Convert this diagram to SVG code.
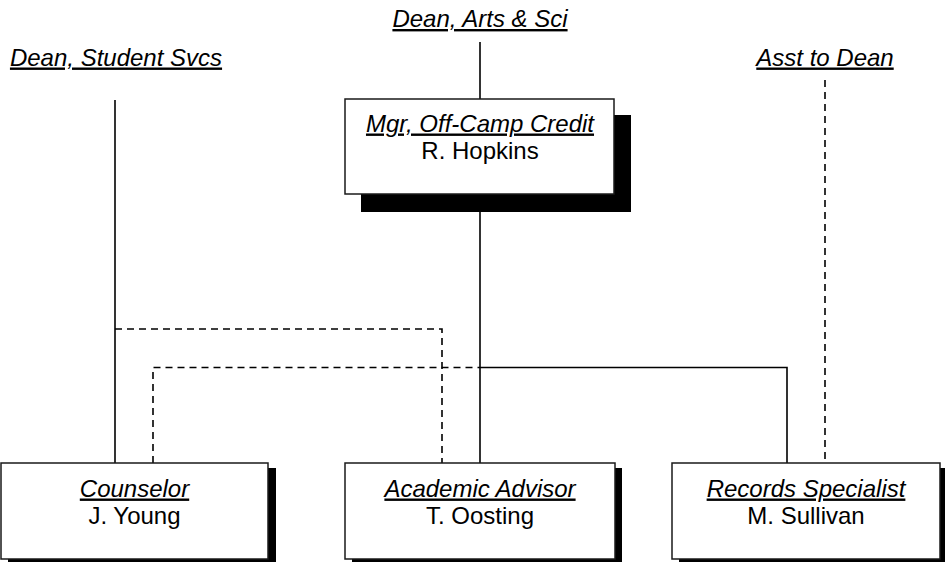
<svg xmlns="http://www.w3.org/2000/svg" width="945" height="562" viewBox="0 0 945 562">
<style>
  .box { fill: #ffffff; stroke: #1a1a1a; stroke-width: 1.5; }
  .shadow { fill: #000000; }
  .title { font-family: "Liberation Sans", Arial, sans-serif; font-size: 24px; font-style: italic; text-decoration: underline; text-anchor: middle; fill: #000; }
  .name { font-family: "Liberation Sans", Arial, sans-serif; font-size: 24px; text-anchor: middle; fill: #000; }
  .solid { fill: none; stroke: #000; stroke-width: 1.6; }
  .dashed { fill: none; stroke: #000; stroke-width: 1.6; stroke-dasharray: 7 5; }
</style>
<rect width="945" height="562" fill="#ffffff"/>
<g id="connectors">
  <path class="solid" d="M480 42 V99"/>
  <path class="solid" d="M480 194 V463"/>
  <path class="solid" d="M115 100 V463"/>
  <path class="solid" d="M480 367.5 H787 V463"/>
  <path class="dashed" d="M115 329 H442 V463"/>
  <path class="dashed" d="M153 463 V367.5 H480"/>
  <path class="dashed" d="M825 80 V463"/>
</g>
<g id="dean-arts">
  <text class="title" x="480" y="27">Dean, Arts &amp; Sci</text>
</g>
<g id="dean-student">
  <text class="title" x="116" y="65.5">Dean, Student Svcs</text>
</g>
<g id="asst-dean">
  <text class="title" x="825" y="65.5">Asst to Dean</text>
</g>
<g id="mgr">
  <rect class="shadow" x="361" y="115" width="270" height="97"/>
  <rect class="box" x="345" y="99" width="269" height="95"/>
  <text class="title" x="480" y="131.5">Mgr, Off-Camp Credit</text>
  <text class="name" x="480" y="158.5">R. Hopkins</text>
</g>
<g id="counselor">
  <rect class="shadow" x="8" y="468" width="268" height="96"/>
  <rect class="box" x="1" y="463" width="267" height="96"/>
  <text class="title" x="134.5" y="496.5">Counselor</text>
  <text class="name" x="134.5" y="524">J. Young</text>
</g>
<g id="advisor">
  <rect class="shadow" x="352" y="468" width="270" height="96"/>
  <rect class="box" x="345" y="463" width="270" height="96"/>
  <text class="title" x="480" y="496.5">Academic Advisor</text>
  <text class="name" x="480" y="524">T. Oosting</text>
</g>
<g id="records">
  <rect class="shadow" x="679" y="468" width="268" height="96"/>
  <rect class="box" x="672" y="463" width="268" height="96"/>
  <text class="title" x="806" y="496.5">Records Specialist</text>
  <text class="name" x="806" y="524">M. Sullivan</text>
</g>
</svg>
